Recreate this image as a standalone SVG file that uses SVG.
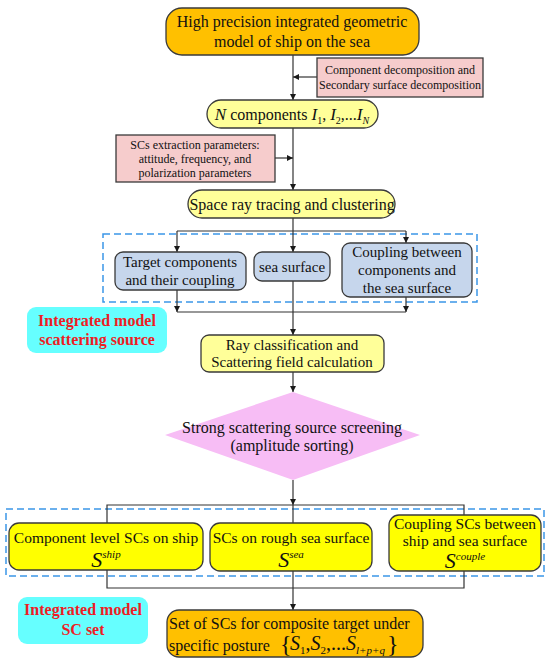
<svg xmlns="http://www.w3.org/2000/svg" width="550" height="663" viewBox="0 0 550 663">
<defs>
<marker id="arr" markerUnits="userSpaceOnUse" markerWidth="8" markerHeight="8" refX="6" refY="3" orient="auto">
<path d="M0,0 L6,3 L0,6 Z" fill="#1a1a1a"/>
</marker>
<style>
text{font-family:"Liberation Serif","Times New Roman",serif;fill:#111;}
.t16{font-size:16px;}
.t155{font-size:15.5px;}
.t15{font-size:15px;}
.t12{font-size:12px;}
.red{font-size:16px;font-weight:bold;fill:#ee1c25;}
.box{stroke:#3a3a3a;stroke-width:1.3;}
.orange{fill:#ffc000;}
.lyel{fill:#ffff99;}
.pink{fill:#f6cccc;}
.blue{fill:#c6d6ec;}
.yel{fill:#ffff00;}
.cyan{fill:#66ffff;}
.dash{fill:none;stroke:#3b96e8;stroke-width:1.5;stroke-dasharray:7,4;}
.ln{fill:none;stroke:#333;stroke-width:1.2;}
.a{marker-end:url(#arr);}
.c{text-anchor:middle;}
</style>
</defs>

<g id="groups">
<rect class="dash" x="103" y="234" width="374" height="68"/>
<rect class="dash" x="6" y="509" width="538" height="67"/>
</g>

<g id="connectors">
<line class="ln a" x1="293" y1="55" x2="293" y2="100"/>
<line class="ln a" x1="317" y1="77" x2="293" y2="77"/>
<line class="ln a" x1="293" y1="128" x2="293" y2="190"/>
<line class="ln a" x1="275" y1="158" x2="293" y2="158"/>
<line class="ln" x1="293" y1="218" x2="293" y2="231"/>
<line class="ln" x1="177" y1="231" x2="406" y2="231"/>
<line class="ln a" x1="177" y1="231" x2="177" y2="252"/>
<line class="ln a" x1="293" y1="231" x2="293" y2="252"/>
<line class="ln a" x1="406" y1="231" x2="406" y2="243"/>
<line class="ln a" x1="177" y1="290" x2="177" y2="312"/>
<line class="ln a" x1="406" y1="297" x2="406" y2="312"/>
<line class="ln" x1="177" y1="312" x2="406" y2="312"/>
<line class="ln a" x1="293" y1="281" x2="293" y2="335"/>
<line class="ln a" x1="293" y1="372" x2="293" y2="392"/>
<line class="ln a" x1="293" y1="480" x2="293" y2="505"/>
<polyline class="ln" points="107,523 107,505 464,505 464,515"/>
<line class="ln" x1="293" y1="505" x2="293" y2="523"/>
<polyline class="ln" points="107,570 107,588 464,588 464,571"/>
<line class="ln a" x1="293" y1="571" x2="293" y2="610"/>
</g>

<g id="n-model">
<rect class="box orange" x="166" y="8" width="253" height="47" rx="16"/>
<text class="t16 c" x="292" y="27">High precision integrated geometric</text>
<text class="t16 c" x="292" y="47">model of ship on the sea</text>
</g>

<g id="n-decomp">
<rect class="box pink" x="317" y="58" width="166" height="39"/>
<text class="t12 c" x="400" y="74">Component decomposition and</text>
<text class="t12 c" x="400" y="89">Secondary surface decomposition</text>
</g>

<g id="n-components">
<rect class="box lyel" x="207" y="100" width="171" height="28" rx="14"/>
<text class="c" x="292" y="120" font-size="16"><tspan font-style="italic" font-size="17">N</tspan> components <tspan font-style="italic" font-size="17">I</tspan><tspan font-size="10" dy="4">1</tspan><tspan dy="-4">, </tspan><tspan font-style="italic" font-size="17">I</tspan><tspan font-size="10" dy="4">2</tspan><tspan dy="-4">,...</tspan><tspan font-style="italic" font-size="17">I</tspan><tspan font-style="italic" font-size="10" dy="4">N</tspan></text>
</g>

<g id="n-params">
<rect class="box pink" x="116" y="135" width="159" height="47"/>
<text class="t12 c" x="195" y="149">SCs extraction parameters:</text>
<text class="t12 c" x="195" y="163">attitude, frequency, and</text>
<text class="t12 c" x="195" y="177">polarization parameters</text>
</g>

<g id="n-raytrace">
<rect class="box lyel" x="188" y="190" width="207" height="28" rx="14"/>
<text class="t16 c" x="292" y="210">Space ray tracing and clustering</text>
</g>

<g id="n-target">
<rect class="box blue" x="115" y="252" width="131" height="38" rx="8"/>
<text class="t15 c" x="180" y="267">Target components</text>
<text class="t15 c" x="180" y="285">and their coupling</text>
</g>

<g id="n-sea">
<rect class="box blue" x="254" y="252" width="76" height="29" rx="8"/>
<text class="t15 c" x="292" y="272">sea surface</text>
</g>

<g id="n-coupling">
<rect class="box blue" x="342" y="243" width="130" height="54" rx="8"/>
<text class="t15 c" x="407" y="257">Coupling between</text>
<text class="t15 c" x="407" y="275">components and</text>
<text class="t15 c" x="407" y="293">the sea surface</text>
</g>

<g id="n-label1">
<rect class="cyan" x="27" y="307" width="140" height="46" rx="9"/>
<text class="red c" x="97" y="326">Integrated model</text>
<text class="red c" x="97" y="345">scattering source</text>
</g>

<g id="n-rayclass">
<rect class="box lyel" x="201" y="335" width="183" height="37" rx="8"/>
<text class="t15 c" x="292" y="350">Ray classification and</text>
<text class="t15 c" x="292" y="367">Scattering field calculation</text>
</g>

<g id="n-screening">
<polygon points="293,392 420,435 293,480 165,435" fill="#f7bdf5"/>
<text class="t16 c" x="292" y="433">Strong scattering source screening</text>
<text class="t16 c" x="292" y="451">(amplitude sorting)</text>
</g>

<g id="n-ship">
<rect class="box yel" x="9" y="523" width="194" height="47" rx="10"/>
<text class="t155 c" x="106" y="543">Component level SCs on ship</text>
<text class="c" x="106" y="567"><tspan font-style="italic" font-size="22">S</tspan><tspan font-style="italic" font-size="11" dy="-9">ship</tspan></text>
</g>

<g id="n-roughsea">
<rect class="box yel" x="210" y="523" width="162" height="48" rx="10"/>
<text class="t155 c" x="291" y="543">SCs on rough sea surface</text>
<text class="c" x="291" y="567"><tspan font-style="italic" font-size="22">S</tspan><tspan font-style="italic" font-size="11" dy="-9">sea</tspan></text>
</g>

<g id="n-couple">
<rect class="box yel" x="389" y="515" width="152" height="56" rx="10"/>
<text class="t155 c" x="465" y="529">Coupling SCs between</text>
<text class="t155 c" x="465" y="546">ship and sea surface</text>
<text class="c" x="465" y="568"><tspan font-style="italic" font-size="22">S</tspan><tspan font-style="italic" font-size="11" dy="-8">couple</tspan></text>
</g>

<g id="n-label2">
<rect class="cyan" x="18" y="597" width="130" height="47" rx="9"/>
<text class="red c" x="83" y="615">Integrated model</text>
<text class="red c" x="83" y="635">SC set</text>
</g>

<g id="n-final">
<rect class="box orange" x="167" y="610" width="256" height="47" rx="12"/>
<text class="t16" x="169" y="629">Set of SCs for composite target under</text>
<text class="t16" x="169" y="651">specific posture</text>
<text x="280" y="652" font-size="24">{</text>
<text x="290" y="650"><tspan font-style="italic" font-size="20">S</tspan><tspan font-size="11" dy="4">1</tspan><tspan font-size="20" dy="-4">,</tspan><tspan font-style="italic" font-size="20">S</tspan><tspan font-size="11" dy="4">2</tspan><tspan font-size="20" dy="-4">,...</tspan><tspan font-style="italic" font-size="20">S</tspan><tspan font-style="italic" font-size="11" dy="4">l+p+q</tspan></text>
<text x="387" y="652" font-size="24">}</text>
</g>
</svg>
